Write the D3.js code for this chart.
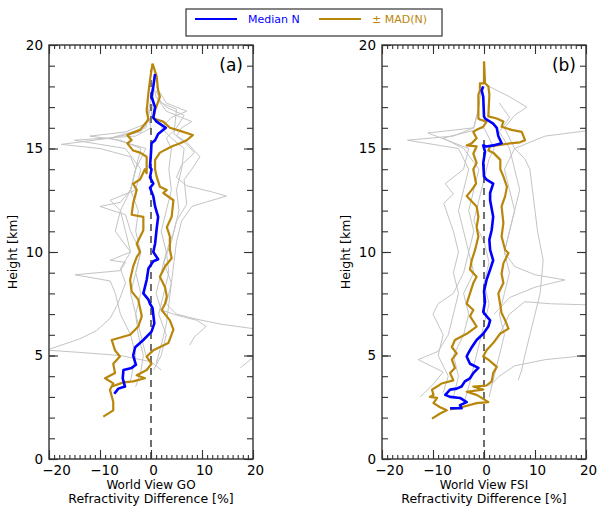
<!DOCTYPE html>
<html>
<head>
<meta charset="utf-8">
<script src="https://cdn.jsdelivr.net/npm/d3@7"></script>
<style>
  body { margin: 0; background: #fff; }
  text { font-family: "DejaVu Sans", sans-serif; }
</style>
</head>
<body>
<div id="chart"></div>
<script>
// profiles are [difference %, height km]
const panelNames = ['(a)', '(b)'];
const xTitles = ['World View GO', 'World View FSI'];
const xMajor = [-20, -10, 0, 10, 20];
const yMajor = [0, 5, 10, 15, 20];

// panel (a)
const medianA = [[0.8,18.6],[0.45,18.0],[0.1,17.5],[0.8,17.0],[0.45,16.5],[1.1,16.3],[2.9,16.0],[1.4,15.7],[0.8,15.4],[0.1,15.25],[0,14.8],[-0.2,14.1],[0.1,14.0],[-0.2,13.6],[0.45,13.3],[-0.2,13.1],[0.45,12.7],[0.8,12.2],[1.4,11.7],[1.1,11.1],[0.8,10.4],[0.45,10.0],[1.4,9.65],[0.45,9.55],[-0.5,9.2],[-0.85,8.65],[-1.5,8.0],[-0.5,7.7],[-0.2,7.5],[0.3,7.3],[0.65,6.55],[0.1,6.15],[-1.5,5.75],[-3.1,5.4],[-3.5,5.0],[-2.95,4.55],[-3.8,4.4],[-5.4,4.3],[-5.55,3.9],[-5.1,3.5],[-6.4,3.4],[-7.2,3.15]];
const madLowA = [[0.3,19.1],[-0.2,18.3],[-0.5,17.7],[-0.85,16.8],[-0.5,16.4],[-2.15,15.9],[-4.65,15.65],[-3.8,15.4],[-4.65,15.25],[-3.5,14.9],[-2.15,14.8],[-0.85,14.6],[-0.85,13.8],[-1.2,14.0],[-2.15,13.5],[-3.5,13.3],[-2.8,13.0],[-3.5,12.35],[-3.8,11.8],[-1.5,11.7],[-1.5,11.05],[-2.8,10.4],[-2.15,10.0],[-2.8,9.75],[-3.5,9.3],[-4.1,8.65],[-3.8,8.1],[-2.5,7.7],[-1.8,6.9],[-2.5,6.4],[-4.1,6.0],[-7.7,5.75],[-7.05,5.25],[-6.1,4.95],[-7.4,4.6],[-7.05,4.15],[-9.0,3.9],[-7.4,3.65],[-8.05,3.35],[-7.4,2.75],[-7.4,2.35],[-9.35,2.05]];
const madHighA = [[0.3,19.1],[1.1,18.5],[1.4,17.8],[1.75,17.5],[0.8,16.85],[0.45,16.45],[2.4,16.3],[3.7,16.0],[5.7,15.85],[8.2,15.65],[7.0,15.4],[5.7,15.25],[4.05,15.1],[1.75,14.8],[0.8,14.45],[0.8,14.0],[1.1,13.65],[1.75,13.15],[3.1,13.0],[2.4,12.85],[4.4,12.5],[4.05,11.7],[3.1,11.2],[3.7,10.75],[3.7,10.1],[4.05,9.7],[2.75,9.3],[1.75,8.8],[2.75,8.3],[3.1,7.85],[2.75,7.5],[2.1,7.2],[3.7,6.7],[4.4,6.25],[3.4,5.6],[0.45,5.25],[-0.85,4.95],[0.1,4.6],[-0.85,4.3],[-2.8,4.05],[-1.2,3.9],[-3.5,3.75],[-5.4,3.7],[-7.7,3.5]];
const greyA = [
  [[-3,3.5],[-2,4.2],[-1.5,5],[-2.5,6],[-3,7],[-2,8],[-3,9],[-2,10],[-3,11],[-2.5,12],[-4,13],[-3,14],[-4,14.6],[-10,15],[-17.6,15.2],[-8,15.5],[-2,15.8],[0,16.5],[0.5,17.5],[0.3,18]],
  [[1,4.6],[2,5.5],[3,6.5],[3.5,7.5],[4,8.5],[4.5,9.5],[5,10.5],[6,11.5],[8,12.2],[12,12.5],[14.8,12.7],[12,12.9],[7,13.2],[5,13.6],[6,14.2],[8.5,14.8],[7,15.2],[5,15.6],[6,16],[8,16.3],[6,16.5],[3,16.8],[1,17.5],[0.5,18]],
  [[7.6,5.5],[8.5,5.9],[10.8,6.4],[9,6.7],[5,6.95],[2,7.2],[1,8],[2,9],[3,10],[2,11],[3,12],[4,13],[3.5,14],[4,15],[3,15.5],[5,16],[6.5,16.6],[3,17],[1,17.5]],
  [[20,6.3],[14,6.5],[9,6.75],[5,7.0],[3,7.5],[4,8.5],[2.5,9.5],[4,10.5],[5,11.5],[7,12.3],[6.5,13.5],[8,14],[9.6,14.6],[7,15.3],[4.5,15.7],[5,16.9],[2,17.2],[1,17.8]],
  [[-20,5.3],[-14,5.8],[-10.7,6.2],[-8,6.8],[-6.5,7.5],[-5,8.5],[-6,9.2],[-4,10],[-5,11],[-6,12],[-4,13],[-3,14],[-2,15],[-6,15.4],[-12,15.6],[-5,15.8],[-1,16.2],[0,17]],
  [[2,4.3],[0,4.7],[-6,5.0],[-14,5.15],[-20,5.25]],
  [[-4,3.8],[-3,5],[-4,6],[-6,7],[-7,8],[-8,8.6],[-14.9,8.9],[-6,9.1],[-5,9.5],[-8,9.6],[-4,10],[-7,11],[-6,12],[-8,12.5],[-3,13],[-2,14],[-5,15],[-15,15.4],[-3,15.6],[0,16],[-1,17]],
  [[-1,5],[-2,6],[-3,7],[-4,8],[-3,9],[-2,10],[-4,11],[-5,11.8],[-10,12.2],[-6,12.4],[-4,13],[-3,14],[-1,15],[-8,15.5],[-1,16],[0,17.5]],
  [[0.5,4.3],[2,5],[3,6],[1.5,7],[2.5,8],[3.5,9],[3,10],[4.5,11],[5.5,12],[5,13],[6,14],[6.5,15],[4,15.5],[2,16],[4,16.5],[7,16.8],[3,17.2],[1,18]],
  [[17.5,4.4],[19,4.7],[20,4.9]]
];

// panel (b)
const medianB = [[-0.15,18.0],[-0.45,17.8],[-0.15,17.5],[0,16.55],[0.2,16.45],[1.8,16.2],[2.5,16.0],[2.8,15.6],[3.45,15.25],[1.8,15.15],[0.5,15.1],[-0.15,15.15],[0.2,14.85],[-0.15,14.3],[0,13.65],[0.5,13.5],[1.8,13.3],[1.2,12.85],[1.2,12.5],[1.8,11.7],[1.5,11.05],[1.05,10.6],[1.2,10.1],[1.8,9.6],[1.2,9.15],[0.5,8.65],[0,8.1],[0.2,7.6],[-0.15,7.1],[0.5,6.9],[1.2,6.7],[0.85,6.4],[-0.15,6.05],[-1.45,5.75],[-2.4,5.4],[-3.1,5.1],[-3.4,4.95],[-2.75,4.6],[-1.1,4.4],[-2.1,4.15],[-2.75,3.9],[-3.75,3.75],[-4.4,3.5],[-5.35,3.4],[-6.65,3.35],[-7.6,3.1],[-6.65,3.0],[-4.7,2.95],[-3.4,2.75],[-4.7,2.6],[-4.4,2.45],[-6.65,2.45]];
const madLowB = [[0,19.2],[0,18.15],[-0.8,18.15],[-0.8,17.8],[-1.1,17.6],[-1.1,16.45],[-0.8,16.4],[0.5,16.3],[-0.15,16.05],[-1.45,15.9],[-2.1,15.8],[-1.45,15.5],[-2.4,15.25],[-3.4,15.15],[-1.45,15.1],[-2.1,14.75],[-1.45,14.3],[-2.1,14.0],[-1.55,13.3],[-2.4,13.0],[-3.4,12.7],[-1.45,12.2],[-1.1,11.7],[-1.45,11.2],[-1.1,10.75],[-1.75,10.1],[-2.4,9.6],[-2.75,9.15],[-1.45,8.8],[-2.1,8.5],[-2.75,8.0],[-3.4,7.5],[-2.1,7.2],[-2.75,6.9],[-1.45,6.4],[-3.4,6.05],[-5.7,5.75],[-6.3,5.4],[-5.35,5.1],[-6.3,4.8],[-5.7,4.4],[-6.65,4.15],[-6.0,3.8],[-8.3,3.65],[-9.2,3.5],[-10.2,3.35],[-9.9,3.1],[-10.6,3.0],[-9.2,2.95],[-9.9,2.7],[-8.6,2.5],[-7.3,2.35],[-8.6,2.2],[-10.2,1.95]];
const madHighB = [[0,19.2],[0.2,18.15],[0.85,18.0],[1.05,17.6],[0.85,16.55],[2.5,16.45],[3.8,16.3],[3.45,16.05],[5.4,15.9],[7.4,15.8],[8.05,15.4],[7.05,15.3],[5.1,15.25],[1.2,15.1],[0.85,14.9],[1.8,14.8],[3.2,14.45],[3.2,14.0],[3.8,13.65],[4.5,13.15],[4.15,12.7],[3.45,12.2],[3.8,11.4],[3.45,10.75],[4.15,10.1],[4.8,9.95],[3.8,9.45],[3.45,8.95],[3.8,8.5],[2.8,8.0],[3.15,7.5],[3.45,7.05],[4.15,6.7],[4.8,6.3],[3.15,6.05],[1.8,5.6],[0.5,5.25],[-0.15,4.95],[0.85,4.8],[2.5,4.45],[1.8,4.15],[1.5,3.75],[0.5,3.55],[-2.1,3.5],[-0.15,3.35],[-3.4,3.25],[-1.45,3.1],[-0.45,2.95],[0.85,2.75],[-1.45,2.7],[-4.4,2.5],[-6.65,2.4]];
const greyB = [
  [[-6,3],[-5,4],[-6,5],[-4,6],[-3,7],[-4,8],[-2,9],[-3,10],[-4,11],[-5,12],[-4,13],[-3,14],[-5,15],[-15,15.4],[-6,15.6],[-2,16],[-1,17],[-0.5,18]],
  [[1,3],[2,4],[3,5],[4,6],[3,7],[4,8],[5,9],[4,10],[5,11],[6,12],[5,13],[4,14],[6,15],[12,15.6],[20,15.85]],
  [[6.7,3.8],[7.4,4.3],[8,5],[9,6],[10,7],[11,8],[11.6,9.6],[10.5,11],[10,12],[9.5,13],[9,14],[8,14.5],[6,15],[4,16],[6,16.6],[8.4,17],[5,17.5],[1,18]],
  [[3,6],[5,7],[8,7.6],[13,7.5],[20,7.45]],
  [[2,7],[5,7.8],[10,8.3],[15.9,8.65],[10,8.9],[6,9.3],[4,10],[5,11],[6,12],[7,13],[6,14],[5,15],[3,15.8],[5,16.5],[3,17.2]],
  [[1,3.5],[3,4],[6,4.5],[12,4.8],[20,5.0]],
  [[-12.5,3.0],[-10,3.6],[-8,4.2],[-12.9,4.8],[-9,5.2],[-7,6],[-6,7],[-5,8],[-6,9],[-5,10],[-6,11],[-7.9,12.35],[-6,12.8],[-7.6,13.3],[-4,14],[-3,15],[-11,15.75],[-2,16],[-1,17]],
  [[-4,2.6],[-3,3.5],[-2,4.5],[-1,5.5],[0,6.5],[1,7.5],[0,8.5],[1,9.5],[0,10.5],[-2,11.5],[-1,12.5],[0,13.5],[1,14.5],[2,15],[0,16]],
  [[-8,3.2],[-7,4],[-9,5],[-8,6],[-10,7],[-9,7.5],[-6,8],[-4,9],[-3,10],[-2,11],[-3,12],[-2,13],[-1,14],[-4,15],[-8,15.5],[0,16]]
];

const dashTop = [18.8, 15.5];

const W = 600, H = 511;
const blue = '#0000ff', gold = '#b8860b', grey = '#c4c4c4', ink = '#333';

const svg = d3.select('#chart').append('svg').attr('width', W).attr('height', H);

const panels = [
  { left: 49, grey: greyA, median: medianA, low: madLowA, high: madHighA },
  { left: 382, grey: greyB, median: medianB, low: madLowB, high: madHighB }
];
const pw = 204, plotTop = 45, ph = 414;

panels.forEach((p, i) => {
  const x = d3.scaleLinear().domain([-20, 20]).range([0, pw]);
  const y = d3.scaleLinear().domain([0, 20]).range([ph, 0]);
  const g = svg.append('g').attr('transform', `translate(${p.left},${plotTop})`);

  const clipId = 'clip' + i;
  g.append('defs').append('clipPath').attr('id', clipId)
    .append('rect').attr('width', pw).attr('height', ph);

  const line = d3.line().x(d => x(d[0])).y(d => y(d[1]));
  const plot = g.append('g').attr('clip-path', `url(#${clipId})`);

  plot.selectAll('.grey').data(p.grey).join('path')
    .attr('d', line).attr('fill', 'none').attr('stroke', grey).attr('stroke-width', 1);

  plot.append('line').attr('x1', x(0)).attr('x2', x(0)).attr('y1', y(0)).attr('y2', y(dashTop[i]))
    .attr('stroke', '#222').attr('stroke-width', 1.3).attr('stroke-dasharray', '7,5');

  [p.low, p.high].forEach(d => {
    plot.append('path').attr('d', line(d)).attr('fill', 'none')
      .attr('stroke', gold).attr('stroke-width', 2.2).attr('stroke-linejoin', 'round');
  });
  plot.append('path').attr('d', line(p.median)).attr('fill', 'none')
    .attr('stroke', blue).attr('stroke-width', 2.6).attr('stroke-linejoin', 'round');

  // minor ticks on all four sides
  const minorX = d3.range(-20, 21, 1), minorY = d3.range(0, 21, 1);
  g.append('g').attr('transform', `translate(0,${ph})`)
    .call(d3.axisBottom(x).tickValues(minorX).tickSizeInner(-4).tickSizeOuter(0).tickFormat(''));
  g.append('g')
    .call(d3.axisTop(x).tickValues(minorX).tickSizeInner(-4).tickSizeOuter(0).tickFormat(''));
  g.append('g')
    .call(d3.axisLeft(y).tickValues(minorY).tickSizeInner(-6).tickSizeOuter(0).tickFormat(''));
  g.append('g').attr('transform', `translate(${pw},0)`)
    .call(d3.axisRight(y).tickValues(minorY).tickSizeInner(-6).tickSizeOuter(0).tickFormat(''));

  // major ticks with labels
  g.append('g').attr('class', 'xaxis').attr('transform', `translate(0,${ph})`)
    .call(d3.axisBottom(x).tickValues(xMajor).tickSizeInner(-9).tickSizeOuter(0).tickPadding(6).tickFormat(d3.format('d')));
  g.append('g')
    .call(d3.axisTop(x).tickValues(xMajor).tickSizeInner(-9).tickSizeOuter(0).tickFormat(''));
  g.append('g').attr('class', 'yaxis')
    .call(d3.axisLeft(y).tickValues(yMajor).tickSizeInner(-9).tickSizeOuter(0).tickPadding(6).tickFormat(d3.format('d')));
  g.append('g').attr('transform', `translate(${pw},0)`)
    .call(d3.axisRight(y).tickValues(yMajor).tickSizeInner(-9).tickSizeOuter(0).tickFormat(''));

  g.selectAll('.domain').remove();
  g.selectAll('.tick line').attr('stroke', ink).attr('stroke-width', 1.1);
  g.selectAll('.tick text').attr('fill', '#000').style('font-size', '13.5px')
    .style('font-family', '"DejaVu Sans", sans-serif');
  g.selectAll('.xaxis .tick text').attr('dx', d => d === -20 ? 7 : d < 0 ? 4 : 2);

  g.append('rect').attr('width', pw).attr('height', ph)
    .attr('fill', 'none').attr('stroke', ink).attr('stroke-width', 1.4);

  g.append('text').attr('x', pw - 10).attr('y', 26).attr('text-anchor', 'end')
    .style('font-size', '17px').text(panelNames[i]);

  g.append('text').attr('x', pw / 2).attr('y', ph + 30).attr('text-anchor', 'middle')
    .style('font-size', '12px').text(xTitles[i]);
  g.append('text').attr('x', pw / 2).attr('y', ph + 44).attr('text-anchor', 'middle')
    .style('font-size', '12.5px').text('Refractivity Difference [%]');

  g.append('text').attr('transform', `translate(${-32},${ph / 2}) rotate(-90)`)
    .attr('text-anchor', 'middle').style('font-size', '12.5px').text('Height [km]');
});

// legend
const lg = svg.append('g').attr('transform', 'translate(186,9)');
lg.append('rect').attr('width', 256).attr('height', 27)
  .attr('fill', '#fff').attr('stroke', ink).attr('stroke-width', 1.2);
const legendItems = [
  { label: 'Median N', color: blue, x: 9 },
  { label: '\u00b1 MAD(N)', color: gold, x: 133 }
];
legendItems.forEach(it => {
  lg.append('line').attr('x1', it.x).attr('x2', it.x + 42).attr('y1', 10).attr('y2', 10)
    .attr('stroke', it.color).attr('stroke-width', 2);
  lg.append('text').attr('x', it.x + 53).attr('y', 14).attr('fill', it.color)
    .style('font-size', '11px').text(it.label);
});
</script>
</body>
</html>
